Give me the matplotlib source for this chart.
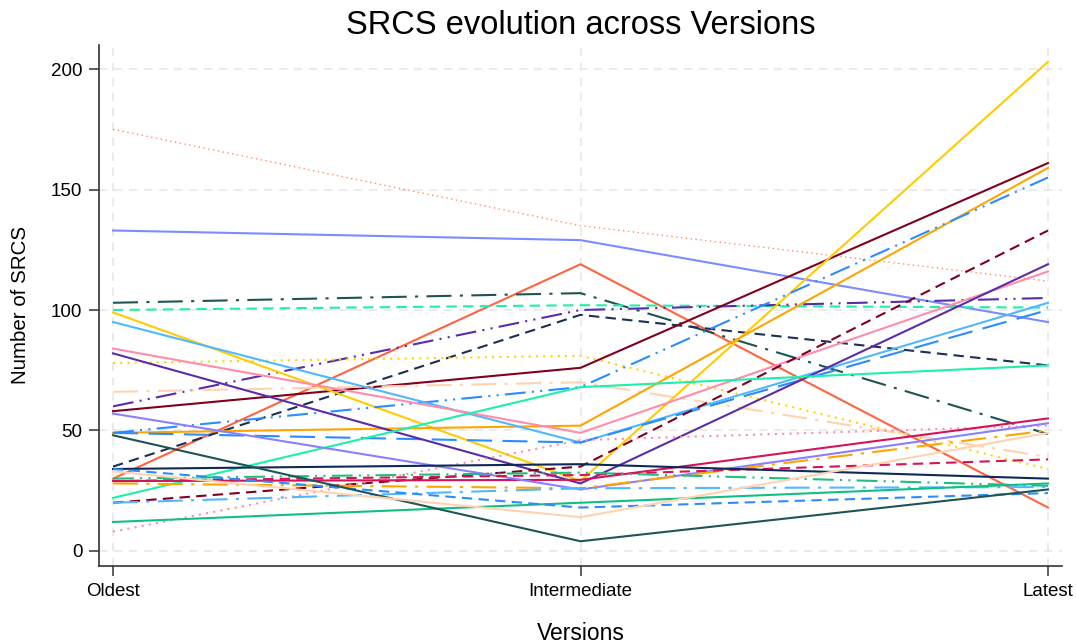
import numpy as np
import matplotlib.pyplot as plt

plt.rcParams['font.family'] = ['Liberation Sans', 'DejaVu Sans']

versions = ["Oldest", "Intermediate", "Latest"]

# SRCS count of each project at the three versions
oldest = [175, 133, 30, 103, 100, 60, 35, 78, 58, 66, 99, 49, 49, 95, 49, 84,
          82, 20, 22, 8, 29, 57, 28, 29, 34, 30, 20, 12, 34, 48, 33]
intermediate = [135, 129, 119, 107, 102, 100, 98, 81, 76, 70, 29, 52, 68, 45, 45, 49,
                28, 35, 68, 46, 29.5, 25.5, 26, 31.5, 36, 32.5, 26, 20, 18, 4, 14]
latest = [112, 95, 18, 48.5, 101, 105, 77, 34, 161, 39, 203, 159, 155, 103, 100, 116,
          119, 133, 77, 52, 55, 53, 50, 38, 30, 27, 26.5, 28, 24, 25.5, 49]

# line appearance per project
colors = ['#ff8c69', '#7a8cff', '#ff6340', '#1f5454', '#1ef0a8', '#5a2ca8', '#1c2f55',
          '#ffd400', '#80001e', '#ffd3b0', '#ffcc00', '#ffa500', '#2b8cff', '#4fb8ff',
          '#2b8cff', '#ff8cab', '#5a2ca8', '#80001e', '#1ef0a8', '#ff8cab', '#d6125a',
          '#8a80ff', '#ffa500', '#d6125a', '#0c2a55', '#1fbf80', '#4fb8ff', '#10c080',
          '#2b8cff', '#1f5454', '#ffd3b0']
dot = (0, (1, 2.5))
dash = (0, (5, 3))
longdash = (0, (12, 5))
dashdot = (0, (12, 4, 1.5, 4))
dashdotdot = (0, (10, 3, 1, 3, 1, 3))
solid = '-'
styles = [dot, solid, solid, dashdot, dash, dashdotdot, dash, dot, solid, dashdot,
          solid, solid, dashdotdot, solid, longdash, solid, solid, dash, solid, dot,
          solid, solid, dashdot, dash, solid, dashdotdot, dashdot, solid, dash, solid,
          solid]

fig = plt.figure(figsize=(10.76, 6.43), dpi=100)
ax = fig.add_axes([0.092, 0.12, 0.895, 0.81])

x = np.arange(len(versions))
for i in range(len(oldest)):
    y = [oldest[i], intermediate[i], latest[i]]
    lw = 1.0 if i == 0 else 1.5
    ax.plot(x, y, color=colors[i], linestyle=styles[i], linewidth=lw)

ax.set_xlim(-0.03, 2.03)
ax.set_ylim(-6.2, 210)
ax.set_xticks(x)
ax.set_xticklabels(versions)
ax.set_yticks([0, 50, 100, 150, 200])

ax.grid(True, color='#e8e8e8', linestyle=(0, (5, 4)), linewidth=1.2)
ax.set_axisbelow(True)
for s in ['top', 'right']:
    ax.spines[s].set_visible(False)
for s in ['left', 'bottom']:
    ax.spines[s].set_color('#333333')
    ax.spines[s].set_linewidth(1.2)
ax.tick_params(axis='both', direction='out', length=7, width=1.1, color='#333333',
               labelsize=13.5, pad=5)

ax.set_title("SRCS evolution across Versions", fontsize=23.5, pad=8)
ax.set_xlabel("Versions", fontsize=16.5, labelpad=16)
ax.set_ylabel("Number of SRCS", fontsize=14.8, labelpad=15)

fig.savefig("out.png", dpi=100)
